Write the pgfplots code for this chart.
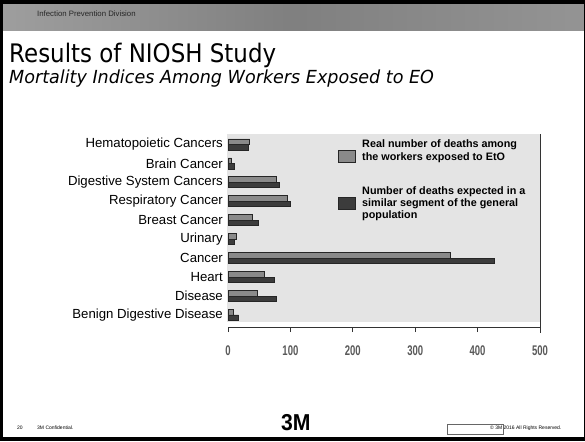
\documentclass[border=0pt]{standalone}
\usepackage{pgfplots}
\pgfplotsset{compat=1.18}
\usepackage{fontspec}
\usepackage{graphicx}
\setmainfont{Liberation Sans}
\newfontfamily\titlefont{DejaVu Sans}
\definecolor{realbar}{HTML}{8A8A8A}
\definecolor{expbar}{HTML}{3C3C3C}
\definecolor{plotbg}{HTML}{E4E4E4}
\newcommand{\tl}[1]{\scalebox{0.68}[1]{\textbf{#1}}}
\begin{document}
\begin{tikzpicture}[x=1pt,y=1pt]
\path[use as bounding box] (0,0) rectangle (585,-441);
% header band
\shade[left color=black!38, right color=black!50] (0,-4) rectangle (292,-31);
\shade[left color=black!50, right color=black!42] (292,-4) rectangle (585,-31);
\fill[black] (0,0) rectangle (585,-4);
\node[anchor=base west, inner sep=0pt, text=black!85, font=\fontsize{7.8}{9}\selectfont] at (37,-17) {Infection Prevention Division};
% title
\node[anchor=base west, inner sep=0pt, font=\titlefont\fontsize{25.5}{28}\selectfont] at (9,-63) {\scalebox{0.9}[1]{Results of NIOSH Study}};
\node[anchor=base west, inner sep=0pt, font=\titlefont\fontsize{18}{20}\selectfont\itshape] at (9,-84) {\scalebox{0.975}[1]{Mortality Indices Among Workers Exposed to EO}};
% plot background
\fill[plotbg] (227,-134) rectangle (540,-322);
\begin{axis}[
  at={(228pt,-327pt)}, anchor=south west,
  scale only axis, width=312pt, height=192pt,
  xmin=0, xmax=500, ymin=-9.636, ymax=0.50,
  xbar, bar width=5.5pt,
  axis x line*=bottom, axis y line*=left,
  y axis line style={draw=none},
  x axis line style={line width=0.9pt, black!80, -},
  xtick={0,100,200,300,400,500},
  xticklabels={\tl{0},\tl{100},\tl{200},\tl{300},\tl{400},\tl{500}},
  tick align=outside, major tick length=5pt,
  xtick style={line width=0.9pt, black!80},
  ytick={-9,-8,-7,-6,-5,-4,-3,-2,-1,0},
  yticklabels={Benign Digestive Disease, Disease, Heart, Cancer, Urinary, Breast Cancer, Respiratory Cancer, Digestive System Cancers, Brain Cancer, Hematopoietic Cancers},
  ytick style={draw=none},
  yticklabel style={font=\fontsize{13.2}{15}\selectfont, inner sep=0pt},
  xticklabel style={font=\fontsize{14}{16}\selectfont, text=black!65, inner sep=0pt, yshift=-14pt},
  clip=false,
]
\addplot[fill=realbar, draw=black!85, line width=0.8pt, bar shift=2.75pt] coordinates {
 (35,0) (6,-1) (78,-2) (95,-3) (39,-4) (13,-5) (356,-6) (59,-7) (47,-8) (9,-9)};
\addplot[fill=expbar, draw=black!85, line width=0.8pt, bar shift=-2.75pt] coordinates {
 (33,0) (9.5,-1) (83,-2) (100,-3) (49,-4) (10,-5) (427,-6) (74,-7) (78,-8) (17,-9)};
\end{axis}
\draw[line width=0.9pt, black!80] (540,-134) -- (540,-333);
% legend
\fill[realbar, draw=black!85, line width=0.8pt] (338,-150) rectangle (355,-162);
\fill[expbar, draw=black!85, line width=0.8pt] (338,-197) rectangle (355,-209);
\begin{scope}[every node/.style={anchor=base west, inner sep=0pt, font=\fontsize{10.8}{12}\selectfont\bfseries}]
\node at (362,-147.5) {Real number of deaths among};
\node at (362,-160) {the workers exposed to EtO};
\node at (362,-194) {Number of deaths expected in a};
\node at (362,-206) {similar segment of the general};
\node at (362,-218) {population};
\end{scope}
% footer
\begin{scope}[every node/.style={anchor=base west, inner sep=0pt, font=\fontsize{5}{6}\selectfont}]
\node at (17,-429) {20};
\node at (37,-429) {3M Confidential.};
\node at (490,-429) {\textcopyright{} 3M 2016 All Rights Reserved.};
\end{scope}
\node[anchor=base west, inner sep=0pt, font=\fontsize{23}{24}\selectfont\bfseries] at (281,-430) {\scalebox{0.92}[1]{3M}};
\draw[black!60, line width=0.5pt] (447,-424) rectangle (503,-434);
% borders
\fill[black] (0,-437) rectangle (585,-441);
\fill[black] (0,0) rectangle (3,-441);
\fill[black] (583.5,0) rectangle (585,-441);
\end{tikzpicture}
\end{document}
